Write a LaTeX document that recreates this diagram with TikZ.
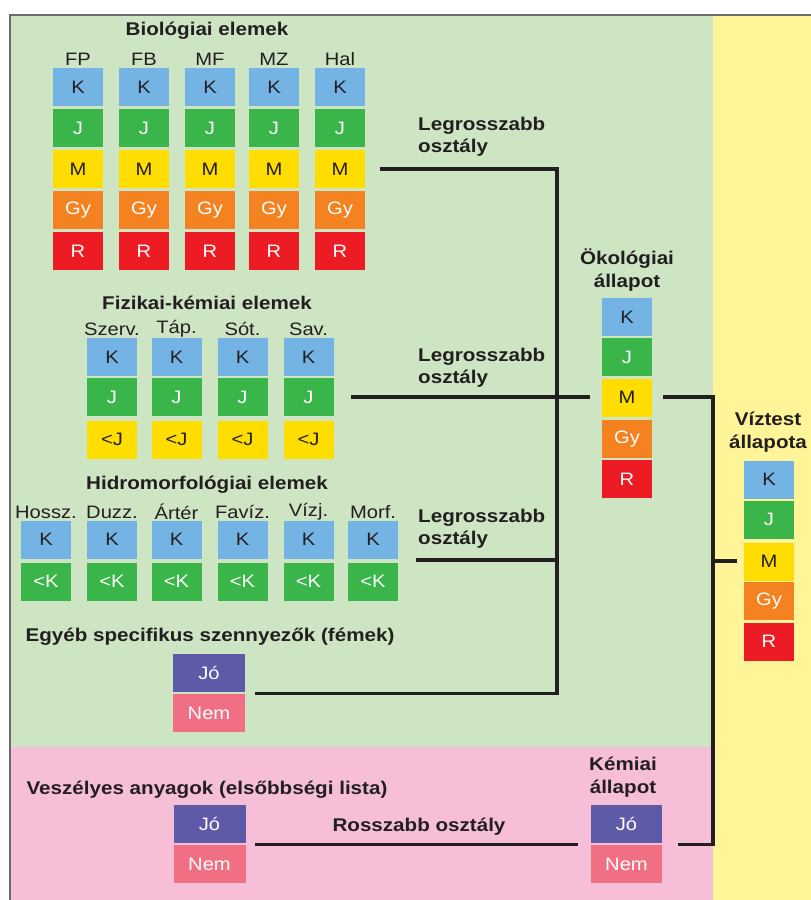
\documentclass[tikz,border=0pt]{standalone}
\usepackage{fontspec}
\setmainfont{Liberation Sans}[FakeStretch=1.12]
\definecolor{cK}{HTML}{74B4E4}
\definecolor{cJ}{HTML}{39B54A}
\definecolor{cM}{HTML}{FFDD00}
\definecolor{cGy}{HTML}{F58220}
\definecolor{cR}{HTML}{ED1C24}
\definecolor{cJo}{HTML}{5F5AA8}
\definecolor{cNem}{HTML}{F06F85}
\definecolor{bgG}{HTML}{CEE5C4}
\definecolor{bgP}{HTML}{F6BFD7}
\definecolor{bgY}{HTML}{FFF598}
\definecolor{ink}{HTML}{231F20}
\definecolor{frame}{HTML}{6B6B6B}
\tikzset{
  box/.style={minimum width=50pt,minimum height=38pt,inner sep=0pt,draw=none,font=\fontsize{18}{18}\selectfont},
  bK/.style={box,fill=cK,text=ink},
  bJ/.style={box,fill=cJ,text=white},
  bM/.style={box,fill=cM,text=ink},
  bGy/.style={box,fill=cGy,text=white},
  bR/.style={box,fill=cR,text=white},
  bJo/.style={box,fill=cJo,text=white,minimum width=72pt},
  bNem/.style={box,fill=cNem,text=white,minimum width=72pt},
  ttl/.style={font=\fontsize{18.4}{20}\selectfont\bfseries,text=ink,inner sep=0pt},
  ttl2/.style={font=\fontsize{18.4}{22}\selectfont\bfseries,text=ink,inner sep=0pt,align=left},
  ttlc/.style={font=\fontsize{18.4}{23}\selectfont\bfseries,text=ink,inner sep=0pt,align=center},
  lbl/.style={font=\fontsize{18}{18}\selectfont,text=ink,inner sep=0pt},
  conn/.style={draw=ink,line width=3.4pt}
}
\begin{document}
\begin{tikzpicture}[x=1pt,y=-1pt]
\useasboundingbox (0,0) rectangle (811,900);
% backgrounds
\fill[white] (0,0) rectangle (811,900);
\fill[bgG] (10,15) rectangle (713,747);
\fill[bgP] (10,747) rectangle (713,900);
\fill[bgY] (713,15) rectangle (811,900);
\draw[frame,line width=1.6pt] (10,900) -- (10,15) -- (811,15);

% Biological elements
\node[ttl] (biot) at (207,31) {Biológiai elemek};
\foreach \n/\x/\l in {1/78/FP,2/144/FB,3/210/MF,4/274/MZ,5/340/Hal}{
  \node[lbl] (biol\n) at (\x,59) {\l};
  \node[bK]  (bioK\n)  at (\x,87)  {K};
  \node[bJ]  (bioJ\n)  at (\x,128) {J};
  \node[bM]  (bioM\n)  at (\x,169) {M};
  \node[bGy] (bioGy\n) at (\x,210) {Gy};
  \node[bR]  (bioR\n)  at (\x,251) {R};
}
\node[ttl2,anchor=west] (lg1) at (418,137) {Legrosszabb\\osztály};

% Physico-chemical
\node[ttl] (fizt) at (207,303) {Fizikai-kémiai elemek};
\foreach \n/\x/\l in {1/112/Szerv.,2/176.5/Táp.,3/242.5/Sót.,4/308.5/Sav.}{
  \node[lbl] (fizl\n) at (\x,329) {\l};
  \node[bK] (fizK\n) at (\x,357) {K};
  \node[bJ] (fizJ\n) at (\x,397) {J};
  \node[bM] (fizM\n) at (\x,439.5) {<J};
}
\node[ttl2,anchor=west] (lg2) at (418,368) {Legrosszabb\\osztály};

% Hydromorphological
\node[ttl] (hidt) at (207,485) {Hidromorfológiai elemek};
\foreach \n/\x/\l in {1/46/Hossz.,2/112/Duzz.,3/176.5/Ártér,4/242.5/Favíz.,5/308.5/Vízj.,6/373/Morf.}{
  \node[lbl] (hidl\n) at (\x,512) {\l};
  \node[bK] (hidK\n) at (\x,539.5) {K};
  \node[bJ] (hidJ\n) at (\x,581.5) {<K};
}
\node[ttl2,anchor=west] (lg3) at (418,529) {Legrosszabb\\osztály};

% Other specific pollutants
\node[ttl] (egyt) at (210,637) {Egyéb specifikus szennyezők (fémek)};
\node[bJo]  (egyJo)  at (209,673) {Jó};
\node[bNem] (egyNem) at (209,713) {Nem};

% Ecological status
\node[ttlc] (ecot) at (627,270) {Ökológiai\\állapot};
\node[bK]  (ecoK)  at (627,317) {K};
\node[bJ]  (ecoJ)  at (627,357) {J};
\node[bM]  (ecoM)  at (627,397.5) {M};
\node[bGy] (ecoGy) at (627,439) {Gy};
\node[bR]  (ecoR)  at (627,479) {R};

% Water body status
\node[ttlc] (vizt) at (768,432.5) {Víztest\\állapota};
\node[bK]  (vizK)  at (769,479.5) {K};
\node[bJ]  (vizJ)  at (769,519.5) {J};
\node[bM]  (vizM)  at (769,561.5) {M};
\node[bGy] (vizGy) at (769,601) {Gy};
\node[bR]  (vizR)  at (769,641.5) {R};

% Hazardous substances
\node[ttl] (vest) at (207,790) {Veszélyes anyagok (elsőbbségi lista)};
\node[bJo]  (vesJo)  at (209.5,824) {Jó};
\node[bNem] (vesNem) at (209.5,864) {Nem};
\node[ttl] (rossz) at (419,827) {Rosszabb osztály};

% Chemical status
\node[ttlc] (kemt) at (623,777.5) {Kémiai\\állapot};
\node[bJo,minimum width=71pt]  (kemJo)  at (626.5,824) {Jó};
\node[bNem,minimum width=71pt] (kemNem) at (626.5,864) {Nem};

% connector levels and junctions
\coordinate (yB) at (0,169);
\coordinate (yF) at (0,397);
\coordinate (yH) at (0,560);
\coordinate (yE) at (0,693.5);
\coordinate (yV) at (0,561);
\coordinate (yK) at (0,844.5);
\coordinate (vx1) at (557,0);
\coordinate (vx2) at (713,0);
% end points
\coordinate (b1) at ([xshift=15pt]bioM5.east);
\coordinate (f1) at ([xshift=17pt]fizJ4.east);
\coordinate (f2) at ([xshift=-12pt]ecoM.west);
\coordinate (h1) at ([xshift=18pt]hidJ6.east);
\coordinate (e1) at ([xshift=10pt]egyNem.east);
\coordinate (o1) at ([xshift=11pt]ecoM.east);
\coordinate (k1) at ([xshift=16pt]kemNem.east);
\coordinate (k2) at ([xshift=-13pt]kemNem.west);
\coordinate (v1) at ([xshift=9pt]vesNem.east);
\coordinate (w1) at ([xshift=-7pt]vizM.west);

\draw[conn] (b1 |- yB) -- (vx1 |- yB) -- (vx1 |- yE) -- (e1 |- yE);
\draw[conn] (f1 |- yF) -- (f2 |- yF);
\draw[conn] (h1 |- yH) -- (vx1 |- yH);
\draw[conn] (o1 |- yF) -- (vx2 |- yF) -- (vx2 |- yK) -- (k1 |- yK);
\draw[conn] (vx2 |- yV) -- (w1 |- yV);
\draw[conn] (v1 |- yK) -- (k2 |- yK);
\end{tikzpicture}
\end{document}
